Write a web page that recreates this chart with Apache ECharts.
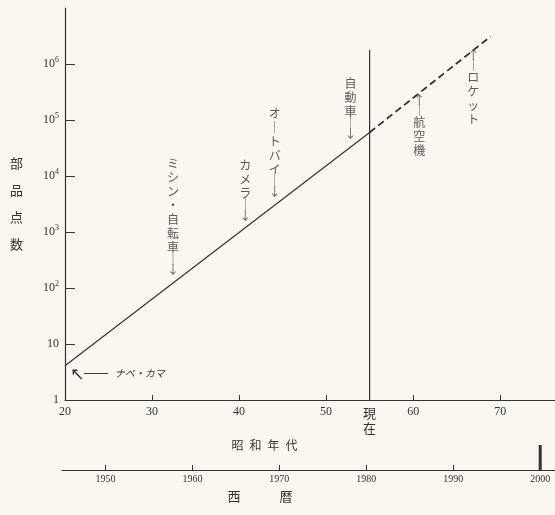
<!DOCTYPE html>
<html>
<head>
<meta charset="utf-8" />
<script src="https://cdn.jsdelivr.net/npm/echarts@6/dist/echarts.min.js"></script>
<style>
    body {
        margin: 0px;
        background-color: #faf7f0;
        overflow: hidden;
    }

    #main {
        width: 555px;
        height: 515px;
    }
</style>
</head>

<body>
<div id="main"></div>

<script type="text/javascript">
    // 昭和年代 (x) / 部品点数 (y, log)
    var showaLabels = [20, 30, 40, 50, 55, 60, 70];
    var showaTicks = [30, 40, 50, 60, 70];
    var yLabels = [1, 10, 100, 1000, 10000, 100000, 1000000];
    var yTicks = [10, 100, 1000, 10000, 100000, 1000000];
    var seirekiTicks = [1950, 1960, 1970, 1980, 1990, 2000];
    var nowShowa = 55;       // 現在 = 昭和55年
    var markYear = 2000;     // 太い目盛

    // 傾向線 (実線: 〜現在, 破線: 将来)
    var solidLine = [[20, 4.1], [55, 60000]];
    var dashLine = [[55, 60000], [68.9, 3100000]];
    var nowLine = [[55, 1], [55, 1800000]];

    // 注記
    var annoNames = ['ミシン・自転車', 'カメラ', 'オートバイ', '自動車', '航空機', 'ロケット'];
    var annoX = [32.4, 40.7, 44.1, 52.8, 60.7, 66.9];
    var annoY = [160, 1500, 4000, 44000, 300000, 1900000];
    var annoDir = ['down', 'down', 'down', 'down', 'up', 'up'];
    var nabeLabel = 'ナベ・カマ';

    var ink = '#333333';
    var jp = '"Noto Sans CJK JP", sans-serif';
    var serif = '"Liberation Serif", "DejaVu Serif", serif';

    function vertical(s) {
        return s.replace(/ー/g, '｜').split('').join('\n');
    }

    var annoData = [];
    for (var i = 0; i < annoNames.length; i++) {
        var txt = vertical(annoNames[i]);
        var down = annoDir[i] === 'down';
        annoData.push({
            value: [annoX[i], annoY[i]],
            label: {
                position: down ? 'top' : 'bottom',
                distance: 1,
                formatter: down ? '{t|' + txt.split('\n').join('}\n{t|') + '}\n{s|│}\n{a|↓}'
                                : '{a|↑}\n{s|│}\n{t|' + txt.split('\n').join('}\n{t|') + '}'
            }
        });
    }

    var chart = echarts.init(document.getElementById('main'));
    var option = {
        animation: false,
        backgroundColor: '#faf7f0',
        grid: [
            { left: 65, right: 0, top: 8, bottom: 115 },
            { left: 62, right: 0, top: 445, bottom: 45 }
        ],
        xAxis: [
            {
                type: 'value',
                gridIndex: 0,
                min: 20,
                max: 76.3,
                splitLine: { show: false },
                axisLine: { lineStyle: { color: ink, width: 1.2 } },
                axisTick: {
                    inside: true, length: 5, customValues: showaTicks,
                    lineStyle: { color: ink }
                },
                axisLabel: {
                    customValues: showaLabels,
                    margin: 6,
                    color: ink,
                    fontFamily: serif,
                    fontSize: 12,
                    formatter: function (v) {
                        return v === nowShowa ? '{n|現}\n{n|在}' : String(v);
                    },
                    rich: {
                        n: { fontFamily: jp, fontSize: 13, lineHeight: 15, color: ink }
                    }
                },
                name: '昭\u2002和\u2002年\u2002代',
                nameLocation: 'middle',
                nameGap: 31,
                nameTextStyle: {
                    fontFamily: jp, fontSize: 12, color: ink,
                    padding: [0, 91, 0, 0]
                }
            },
            {
                type: 'value',
                gridIndex: 1,
                min: 1945,
                max: 2001.7,
                splitLine: { show: false },
                axisLine: { lineStyle: { color: ink, width: 1.2 } },
                axisTick: {
                    inside: true, length: 5, customValues: seirekiTicks,
                    lineStyle: { color: ink }
                },
                axisLabel: {
                    customValues: seirekiTicks,
                    margin: 4,
                    color: ink,
                    fontFamily: serif,
                    fontSize: 10,
                    formatter: function (v) { return String(v); }
                },
                name: '西\u3000\u3000\u3000暦',
                nameLocation: 'middle',
                nameGap: 20,
                nameTextStyle: {
                    fontFamily: jp, fontSize: 13, color: ink,
                    padding: [0, 97, 0, 0]
                }
            }
        ],
        yAxis: [
            {
                type: 'log',
                logBase: 10,
                gridIndex: 0,
                min: 1,
                max: 10000000,
                splitLine: { show: false },
                axisLine: { show: true, lineStyle: { color: ink, width: 1.2 } },
                axisTick: {
                    show: true, inside: true, length: 10, customValues: yTicks,
                    lineStyle: { color: ink }
                },
                axisLabel: {
                    customValues: yLabels,
                    margin: 6,
                    color: ink,
                    fontFamily: serif,
                    fontSize: 12,
                    formatter: function (v) {
                        var e = Math.round(Math.log(v) / Math.LN10);
                        if (e === 0) return '1';
                        if (e === 1) return '10';
                        return '{b|10}{s|' + e + '}';
                    },
                    rich: {
                        b: { fontFamily: serif, fontSize: 12, color: ink, lineHeight: 16 },
                        s: { fontFamily: serif, fontSize: 8, color: ink, verticalAlign: 'top', lineHeight: 16 }
                    }
                },
                name: '部\n品\n点\n数',
                nameLocation: 'middle',
                nameRotate: 0,
                nameGap: 42,
                nameTextStyle: {
                    fontFamily: jp, fontSize: 13, color: ink, lineHeight: 27
                }
            },
            {
                type: 'value',
                gridIndex: 1,
                min: 0,
                max: 1,
                show: false
            }
        ],
        series: [
            {
                name: '実線',
                type: 'line',
                data: solidLine,
                symbol: 'none',
                lineStyle: { color: ink, width: 1.2 },
                label: { show: false },
                markPoint: {
                    symbol: 'circle',
                    symbolSize: 0,
                    data: [{
                        coord: solidLine[0],
                        label: {
                            show: true,
                            position: 'right',
                            offset: [0, 8],
                            formatter: '{a|↖}{l|━━━}  {t|' + nabeLabel + '}',
                            rich: {
                                a: { fontSize: 14, color: ink, fontFamily: jp, fontWeight: 'bold' },
                                l: { fontSize: 8, color: ink, fontFamily: jp },
                                t: { fontSize: 10, color: ink, fontFamily: jp, fontStyle: 'italic' }
                            }
                        }
                    }]
                }
            },
            {
                name: '破線',
                type: 'line',
                data: dashLine,
                symbol: 'none',
                lineStyle: { color: ink, width: 1.8, type: [7, 4] }
            },
            {
                name: '現在',
                type: 'line',
                data: nowLine,
                symbol: 'none',
                lineStyle: { color: ink, width: 1.2 }
            },
            {
                name: '注記',
                type: 'scatter',
                data: annoData,
                symbolSize: 0,
                label: {
                    show: true,
                    color: ink,
                    rich: {
                        t: { fontFamily: jp, fontSize: 12, lineHeight: 14, color: ink },
                        s: { fontFamily: jp, fontSize: 12, lineHeight: 9, color: ink },
                        a: { fontFamily: jp, fontSize: 12, lineHeight: 12, color: ink }
                    }
                }
            },
            {
                name: '2000',
                type: 'line',
                xAxisIndex: 1,
                yAxisIndex: 1,
                data: [[markYear, 0], [markYear, 1]],
                symbol: 'none',
                lineStyle: { color: ink, width: 3 }
            }
        ]
    };
    chart.setOption(option);
</script>
</body>
</html>
